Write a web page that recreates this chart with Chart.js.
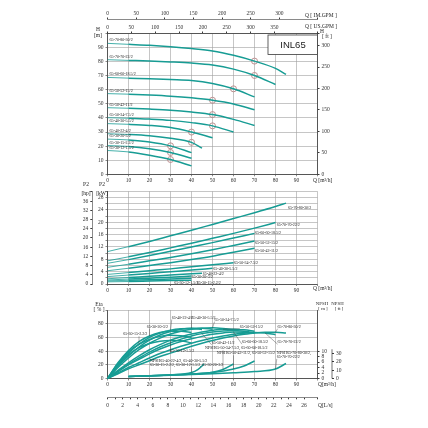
<!DOCTYPE html>
<html>
<head>
<meta charset="utf-8">
<script src="https://cdn.jsdelivr.net/npm/chart.js@4.4.1/dist/chart.umd.min.js"></script>
<style>
  html, body { margin: 0; padding: 0; background: #fff; }
  #wrap { position: relative; width: 428px; height: 428px; overflow: hidden; }
  canvas { position: absolute; left: 0; }
</style>
</head>
<body>
<div id="wrap">
  <canvas id="hq" width="428" height="186" style="top:0px"></canvas>
  <canvas id="p2" width="428" height="116" style="top:180px"></canvas>
  <canvas id="eta" width="428" height="132" style="top:296px"></canvas>
</div>
<script>
// pump models, largest first
var models = ["65-70-80-30/2", "65-70-70-22/2", "65-60-60-18.5/2", "65-50-52-15/2", "65-50-42-11/2",
  "65-50-34-7.5/2", "65-40-30-5.5/2", "65-40-22-4/2", "65-30-20-3/2", "65-30-15-2.2/2", "65-30-12-1.5/2"];

// H-Q curves (m3/h, m)
var headQ = [
  [0, 10, 20, 30, 40, 50, 60, 70, 80, 85],
  [0, 10, 20, 30, 40, 50, 60, 70, 80],
  [0, 10, 20, 30, 40, 50, 60, 70],
  [0, 10, 20, 30, 40, 50, 60, 70],
  [0, 10, 20, 30, 40, 50, 60, 70],
  [0, 10, 20, 30, 40, 50, 60],
  [0, 10, 20, 30, 40, 50],
  [0, 10, 20, 30, 40, 45],
  [0, 10, 20, 30, 40],
  [0, 10, 20, 30, 40],
  [0, 10, 20, 30, 40]
];
var headH = [
  [93, 92.3, 91.6, 90.6, 89.3, 87.6, 84.5, 80.4, 75.2, 71],
  [81.4, 80.9, 80.4, 79.8, 79, 77.6, 74.7, 70.2, 63.8],
  [68.8, 68.3, 67.9, 67.3, 66.6, 64.5, 60.7, 55],
  [57.3, 56.9, 56.3, 55.5, 54.3, 52.6, 50, 45.9],
  [47.3, 46.9, 46.3, 45.5, 44.2, 42.4, 39, 34.7],
  [40.2, 39.8, 39.2, 38.3, 36.7, 34.4, 30],
  [36, 35.5, 34.7, 33.2, 30, 26],
  [28.8, 28.3, 27.4, 25.6, 22.7, 18.6],
  [25, 24.4, 23, 20.2, 15.4],
  [20.4, 19.8, 18.2, 15.5, 11.4],
  [16.9, 15.9, 13.6, 10.5, 6]
];
var ratedQ = [70, 70, 60, 50, 50, 50, 40, 40, 30, 30, 30];
var ratedH = [80.4, 70.2, 60.7, 52.6, 42.4, 34.4, 30, 22.7, 20.2, 15.5, 10.5];

// P2-Q curves (m3/h, kW)
var powerQ = [
  [0, 10, 20, 30, 40, 50, 60, 70, 80, 85],
  [0, 10, 20, 30, 40, 50, 60, 70, 80],
  [0, 10, 20, 30, 40, 50, 60, 70],
  [0, 10, 20, 30, 40, 50, 60, 70],
  [0, 10, 20, 30, 40, 50, 60, 70],
  [0, 10, 20, 30, 40, 50, 60],
  [0, 10, 20, 30, 40, 50],
  [0, 10, 20, 30, 40, 45],
  [0, 10, 20, 30, 40],
  [0, 10, 20, 30, 40],
  [0, 10, 20, 30, 40]
];
var powerKW = [
  [10.5, 12.1, 13.8, 15.6, 17.4, 19.3, 21.2, 23.1, 25.1, 26.2],
  [7.5, 8.8, 10.2, 11.7, 13.2, 14.8, 16.4, 18.1, 19.9],
  [6.7, 7.9, 9.2, 10.6, 12, 13.4, 14.9, 16.4],
  [5.4, 6.4, 7.5, 8.6, 9.8, 11.1, 12.5, 13.9],
  [4.3, 5.1, 6, 6.9, 7.9, 9, 10.3, 11.6],
  [3.1, 3.7, 4.3, 4.9, 5.6, 6.2, 6.9],
  [2.4, 2.9, 3.4, 4, 4.5, 5.1],
  [1.7, 2.1, 2.5, 2.9, 3.3, 3.5],
  [1.3, 1.6, 1.9, 2.2, 2.6],
  [1, 1.2, 1.4, 1.6, 1.85],
  [0.7, 0.8, 0.95, 1.1, 1.25]
];

// efficiency curves (%), flow every 5 m3/h from 0
var effQ = [0, 5, 10, 15, 20, 25, 30, 35, 40, 45, 50, 55, 60, 65, 70, 75, 80, 85];
var effPct = [
  [0, 7, 14, 20, 26, 32, 37, 42, 47, 51.5, 55.5, 59, 62, 64.5, 66.5, 67.5, 67.5, 66.5],
  [0, 8, 16, 23, 30, 36.5, 42, 47, 51.5, 55.5, 59, 62, 64.5, 66, 67, 66.5, 64],
  [0, 10, 20, 28, 36, 43, 49, 54, 58, 61.5, 64.5, 66.5, 68, 67.5, 66],
  [0, 12, 23, 33, 42, 49.5, 56, 61, 65, 68, 70.5, 72, 72, 71, 69],
  [0, 11, 21, 30, 38.5, 46, 52, 57.5, 62, 65.5, 68, 69.5, 70, 69, 67],
  [0, 16, 30, 42, 51.5, 59, 65, 69, 72, 73.5, 74, 73, 71],
  [0, 18, 33, 46, 56, 63.5, 68.5, 72, 73.5, 73.5, 72],
  [0, 20, 37, 50, 60, 66.5, 70.5, 72.5, 73, 71.5],
  [0, 23, 41, 54, 62, 67, 69, 69, 67],
  [0, 22, 39, 50, 57, 61.5, 63, 62.5, 60],
  [0, 20, 35, 45, 51, 54.5, 55.5, 55, 52]
];

// NPSH curves (m)
var npshNames = [
  ["NPSH65-40-22-4/2, 65-40-30-5.5/2", "65-30-15-2.2/2, 65-30-12-1.5/2, 65-30-20-3/2"],
  ["NPSH65-50-34-7.5/2, 65-60-60-18.5/2"],
  ["NPSH65-50-42-11/2, 65-50-52-15/2"],
  ["NPSH65-70-80-30/2,", "65-70-70-22/2"]
];
var npshQ = [
  [10, 20, 30, 40, 43, 46],
  [10, 20, 30, 40, 50, 55, 60],
  [10, 20, 30, 40, 50, 60, 65, 70],
  [10, 20, 30, 40, 50, 60, 70, 80, 85]
];
var npshM = [
  [0.73, 0.99, 1.35, 2.19, 3.28, 5.29],
  [0.73, 0.99, 1.28, 1.64, 2.26, 3.28, 5.29],
  [0.73, 0.99, 1.28, 1.64, 2.19, 3.47, 4.56, 6.39],
  [0.73, 0.91, 1.17, 1.42, 1.75, 2.12, 2.55, 3.47, 5.47]
];

// where the curve labels sit (Q, value) and which flow their leader points to
var powerLabelAt = [[86, 24.5], [80.6, 19.1], [70.2, 16.4], [70.2, 13.4], [70.2, 10.8], [60.2, 6.7],
  [50.4, 4.8], [45.3, 3.3], [40.1, 2.3], [42.5, 0.4], [31.8, 0.4]];
var effLabelAt = [[81, 75.6, 80], [81, 53, 75], [64, 53, 60], [63, 75.6, 55], [49.6, 52, 45], [51, 86, 50],
  [40, 88, 40], [30.6, 89, 30], [18.7, 75.6, 20], [7.5, 64.5, 15], [29.8, 40.6, 30]];
var npshLabelAt = [[20.2, 25.5, 40], [46.4, 44.1, 55], [52, 36.8, 60], [80.6, 36.8, 80]];

var SERIF = "'Liberation Serif', 'DejaVu Serif', serif";
var TEAL = "#179c94";
var GRID = "#a0a0a0";
var EDGE = "#3a3a3a";

Chart.defaults.font.family = SERIF;
Chart.defaults.font.size = 5.5;
Chart.defaults.color = "#333";
Chart.defaults.animation = false;
Chart.defaults.plugins.legend.display = false;
Chart.defaults.plugins.tooltip.enabled = false;

function fixW(w) { return function (s) { s.width = w; }; }
function fixH(h) { return function (s) { s.height = h; }; }
function xy(qs, vs) { return vs.map(function (v, i) { return { x: qs[i], y: v }; }); }

function curve(qs, vs, axis, thinStart) {
  return {
    data: xy(qs, vs), yAxisID: axis, borderColor: TEAL, borderWidth: 1.5,
    pointRadius: 0, fill: false, cubicInterpolationMode: "monotone",
    segment: {
      borderWidth: function (c) {
        var q = c.chart.data.datasets[c.datasetIndex].data[c.p0DataIndex].x;
        return thinStart && q < 10 ? 0.8 : 1.5;
      }
    }
  };
}

function note(ctx, str, x, y, size, align, font) {
  ctx.save();
  ctx.font = size + "px " + (font || SERIF);
  ctx.fillStyle = "#222";
  ctx.textAlign = align || "left";
  ctx.textBaseline = "middle";
  ctx.fillText(str, x, y);
  ctx.restore();
}

function leader(ctx, x0, y0, x1, y1, w) {
  ctx.save();
  ctx.strokeStyle = "#333";
  ctx.lineWidth = w || 0.4;
  ctx.beginPath();
  ctx.moveTo(x0, y0);
  ctx.lineTo(x1, y1);
  ctx.stroke();
  ctx.restore();
}

function qAxis(h, pad) {
  return {
    type: "linear", position: "bottom", min: 0, max: 100, afterFit: fixH(h),
    ticks: { stepSize: 10, autoSkip: false, maxRotation: 0, padding: pad,
      callback: function (v) { return v < 100 ? v : ""; } },
    grid: { color: GRID, lineWidth: 0.6, tickLength: 2, tickColor: EDGE },
    border: { color: EDGE, width: 0.8 }
  };
}

// ---------- H-Q panel ----------
var headSets = models.map(function (m, i) { return curve(headQ[i], headH[i], "y", true); });
headSets.push({
  data: xy(ratedQ, ratedH), yAxisID: "y", showLine: false, pointRadius: 3,
  pointStyle: "circle", pointBorderColor: "#b88585", pointBorderWidth: 0.9,
  pointBackgroundColor: "rgba(0,0,0,0)"
});

new Chart(document.getElementById("hq"), {
  type: "line",
  data: { datasets: headSets },
  options: {
    responsive: false,
    layout: { padding: { left: 82.5, right: 80.5, top: 7.5, bottom: 1.7 } },
    scales: {
      x: qAxis(10, 1),
      xus: {
        type: "linear", position: "top", min: 0, max: 440.3, afterFit: fixH(14),
        ticks: { stepSize: 50, autoSkip: false, maxRotation: 0, padding: 1,
          callback: function (v) { return v <= 350 ? v : ""; } },
        grid: { drawOnChartArea: false, tickLength: 2, tickColor: EDGE },
        border: { color: EDGE, width: 0.8 }
      },
      xim: {
        type: "linear", position: "top", min: 0, max: 366.6, afterFit: fixH(12),
        ticks: { stepSize: 50, autoSkip: false, maxRotation: 0, padding: 1,
          callback: function (v) { return v <= 300 ? v : ""; } },
        grid: { drawOnChartArea: false, tickLength: 2, tickColor: EDGE },
        border: { color: EDGE, width: 0.6 }
      },
      y: {
        position: "left", min: 0, max: 100, afterFit: fixW(25),
        ticks: { stepSize: 10, padding: 2, callback: function (v) { return v < 100 ? v : ""; } },
        grid: { color: GRID, lineWidth: 0.6, tickLength: 2, tickColor: EDGE },
        border: { color: EDGE, width: 0.8 }
      },
      yft: {
        position: "right", min: 0, max: 328.08, afterFit: fixW(30),
        ticks: { stepSize: 50, padding: 2, callback: function (v) { return v <= 300 ? v : ""; } },
        grid: { drawOnChartArea: false, tickLength: 2, tickColor: EDGE },
        border: { color: EDGE, width: 0.8 }
      }
    }
  },
  plugins: [{
    id: "hqNotes",
    afterDraw: function (chart) {
      var ctx = chart.ctx, a = chart.chartArea, sx = chart.scales.x, sy = chart.scales.y;
      models.forEach(function (m, i) {
        note(ctx, m, sx.getPixelForValue(1), sy.getPixelForValue(headH[i][0]) - 3, 4);
      });
      ctx.save();
      ctx.fillStyle = "#fff";
      ctx.strokeStyle = EDGE;
      ctx.lineWidth = 0.8;
      ctx.fillRect(a.right - 49.5, a.top + 1.5, 49.5, 19.5);
      ctx.strokeRect(a.right - 49.5, a.top + 1.5, 49.5, 19.5);
      ctx.restore();
      note(ctx, "INL65", a.right - 24.5, a.top + 11.5, 9.5, "center", "'Liberation Sans', Arial, sans-serif");
      note(ctx, "Q [ IM.GPM ]", 305, 15.5, 5.5);
      note(ctx, "Q [ US.GPM ]", 305, 27, 5.5);
      note(ctx, "H", 98, 30, 5.5, "center");
      note(ctx, "[m]", 98, 35.5, 5.5, "center");
      note(ctx, "H", 322, 31.5, 5.5, "center");
      note(ctx, "[ ft ]", 327, 37, 5.5, "center");
      note(ctx, "Q [m³/h]", 313, 180.5, 5.5);
    }
  }]
});

// ---------- P2 panel ----------
new Chart(document.getElementById("p2"), {
  type: "line",
  data: { datasets: models.map(function (m, i) { return curve(powerQ[i], powerKW[i], "y", true); }) },
  options: {
    responsive: false,
    layout: { padding: { left: 72.3, right: 110.5, top: 11.4, bottom: 2 } },
    scales: {
      x: qAxis(10, 1),
      y: {
        position: "left", min: 0, max: 30, afterFit: fixW(15.2),
        ticks: { stepSize: 2, autoSkip: false, padding: 2,
          callback: function (v) { return v % 4 === 0 && v < 30 ? v : ""; } },
        grid: { color: GRID, lineWidth: 0.6, tickLength: 2, tickColor: EDGE },
        border: { color: EDGE, width: 0.8 }
      },
      yhp: {
        position: "left", min: 0, max: 40.23, afterFit: fixW(20),
        ticks: { stepSize: 4, autoSkip: false, padding: 2,
          callback: function (v) { return v <= 36 ? v : ""; } },
        grid: { drawOnChartArea: false, tickLength: 2, tickColor: EDGE },
        border: { color: EDGE, width: 0.6 }
      }
    }
  },
  plugins: [{
    id: "p2Notes",
    afterDraw: function (chart) {
      var ctx = chart.ctx, sx = chart.scales.x, sy = chart.scales.y;
      models.forEach(function (m, i) {
        note(ctx, m, sx.getPixelForValue(powerLabelAt[i][0]), sy.getPixelForValue(powerLabelAt[i][1]), 4);
      });
      note(ctx, "P2", 86, 5, 5.5, "center");
      note(ctx, "[hp]", 86, 13.5, 5.5, "center");
      note(ctx, "P2", 102, 5, 5.5, "center");
      note(ctx, "[kW]", 102, 13.5, 5.5, "center");
      note(ctx, "Q [m³/h]", 313, 109, 5.5);
    }
  }]
});

// ---------- efficiency / NPSH panel ----------
var etaSets = models.map(function (m, i) { return curve(effQ, effPct[i], "y", false); });
npshQ.forEach(function (q, i) { etaSets.push(curve(q, npshM[i], "ym", false)); });

new Chart(document.getElementById("eta"), {
  type: "line",
  data: { datasets: etaSets },
  options: {
    responsive: false,
    layout: { padding: { left: 85.5, right: 74, top: 14, bottom: 16.7 } },
    scales: {
      x: qAxis(18.8, 1),
      xls: {
        type: "linear", position: "bottom", min: 0, max: 27.78, afterFit: fixH(14),
        ticks: { stepSize: 1, autoSkip: false, maxRotation: 0, padding: 3,
          callback: function (v) { return v % 2 === 0 && v <= 26 ? v : ""; } },
        grid: { drawOnChartArea: false, tickLength: 2, tickColor: EDGE },
        border: { color: EDGE, width: 0.6 }
      },
      y: {
        position: "left", min: 0, max: 100, afterFit: fixW(22),
        ticks: { stepSize: 10, padding: 2, callback: function (v) { return v <= 80 ? v : ""; } },
        grid: { color: GRID, lineWidth: 0.6, tickLength: 2, tickColor: EDGE },
        border: { color: EDGE, width: 0.8 }
      },
      ym: {
        position: "right", min: 0, max: 25, afterFit: fixW(14.5),
        ticks: { stepSize: 2, autoSkip: false, padding: 2,
          callback: function (v) { return v <= 10 ? v : ""; } },
        grid: { drawOnChartArea: false, tickLength: 2,
          tickColor: function (c) { return c.tick && c.tick.value <= 10 ? EDGE : "rgba(0,0,0,0)"; } },
        border: { color: EDGE, width: 0.8 }
      },
      yft: {
        position: "right", min: 0, max: 82.02, afterFit: fixW(22),
        ticks: { stepSize: 10, autoSkip: false, padding: 2,
          callback: function (v) { return v <= 30 ? v : ""; } },
        grid: { drawOnChartArea: false, tickLength: 2,
          tickColor: function (c) { return c.tick && c.tick.value <= 30 ? EDGE : "rgba(0,0,0,0)"; } },
        border: { display: false }
      }
    }
  },
  plugins: [{
    id: "etaNotes",
    afterDraw: function (chart) {
      var ctx = chart.ctx, sx = chart.scales.x, sy = chart.scales.y, sm = chart.scales.ym, sf = chart.scales.yft;
      ctx.font = "4px " + SERIF;
      models.forEach(function (m, i) {
        var p = effLabelAt[i];
        var x = sx.getPixelForValue(p[0]), y = sy.getPixelForValue(p[1]);
        var w = ctx.measureText(m).width;
        var k = effQ.indexOf(p[2]);
        var tx = sx.getPixelForValue(p[2]), ty = sy.getPixelForValue(effPct[i][k]);
        note(ctx, m, x, y, 4);
        leader(ctx, Math.min(Math.max(tx, x), x + w), y + 2, tx, ty);
      });
      npshNames.forEach(function (lines, i) {
        var p = npshLabelAt[i];
        var x = sx.getPixelForValue(p[0]), y = sy.getPixelForValue(p[1]);
        var k = npshQ[i].indexOf(p[2]);
        var tx = sx.getPixelForValue(p[2]), ty = sm.getPixelForValue(npshM[i][k]);
        ctx.font = "4px " + SERIF;
        var w = ctx.measureText(lines[0]).width;
        lines.forEach(function (s, j) { note(ctx, s, x, y + j * 3.6, 4); });
        leader(ctx, Math.min(Math.max(tx, x), x + w), y + 2 + (lines.length - 1) * 3.6, tx, ty);
      });
      // short NPSH [ft] axis line
      leader(ctx, sf.left, sf.getPixelForValue(0), sf.left, sf.getPixelForValue(35), 0.7);
      note(ctx, "Eta", 99, 9, 5.5, "center");
      note(ctx, "[ % ]", 99, 13.3, 5.5, "center");
      note(ctx, "NPSH", 322, 8, 4.8, "center");
      note(ctx, "NPSH", 337.5, 8, 4.8, "center");
      note(ctx, "[ m ]", 323, 13, 4.8, "center");
      note(ctx, "[ ft ]", 339, 13, 4.8, "center");
      note(ctx, "Q[m³/h]", 318, 89, 5.5);
      note(ctx, "Q[L/s]", 318, 110, 5.5);
    }
  }]
});
</script>
</body>
</html>
